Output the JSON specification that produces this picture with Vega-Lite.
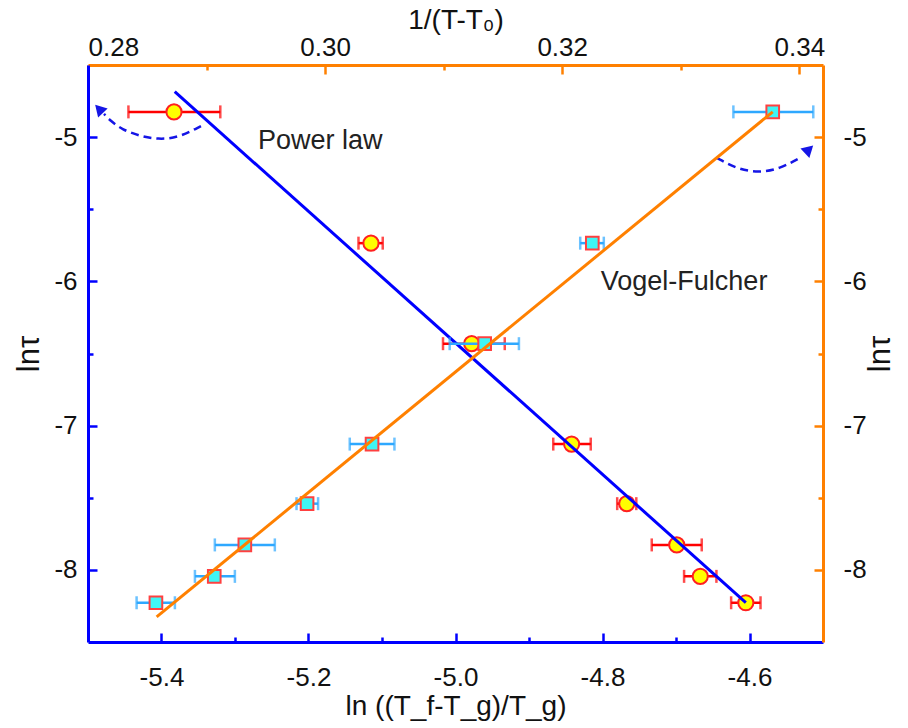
{
  "$schema": "https://vega.github.io/schema/vega-lite/v6.json",
  "width": 735,
  "height": 577,
  "autosize": {"type": "none"},
  "padding": {"left": 88, "top": 65, "right": 85, "bottom": 86},
  "background": "white",
  "config": {
    "view": {"stroke": null},
    "font": "Liberation Sans",
    "axis": {"grid": false, "labelFont": "Liberation Sans", "titleFont": "Liberation Sans", "titleFontWeight": "normal", "labelColor": "#111", "titleColor": "#111", "labelFontSize": 26, "titleFontSize": 28}
  },
  "datasets": {
    "power": [
      {"x": -5.383, "y": -4.825, "xlo": -5.445, "xhi": -5.320},
      {"x": -5.115, "y": -5.735, "xlo": -5.132, "xhi": -5.099},
      {"x": -4.978, "y": -6.432, "xlo": -5.017, "xhi": -4.933},
      {"x": -4.842, "y": -7.128, "xlo": -4.867, "xhi": -4.816},
      {"x": -4.767, "y": -7.541, "xlo": -4.780, "xhi": -4.754},
      {"x": -4.699, "y": -7.827, "xlo": -4.733, "xhi": -4.665},
      {"x": -4.667, "y": -8.045, "xlo": -4.689, "xhi": -4.645},
      {"x": -4.605, "y": -8.228, "xlo": -4.625, "xhi": -4.585}
    ],
    "vf": [
      {"t": 0.28573, "y": -8.228, "tlo": 0.28410, "thi": 0.28733},
      {"t": 0.29065, "y": -8.045, "tlo": 0.28902, "thi": 0.29239},
      {"t": 0.29323, "y": -7.827, "tlo": 0.29070, "thi": 0.29576},
      {"t": 0.29848, "y": -7.541, "tlo": 0.29759, "thi": 0.29941},
      {"t": 0.30396, "y": -7.128, "tlo": 0.30208, "thi": 0.30585},
      {"t": 0.31346, "y": -6.432, "tlo": 0.31051, "thi": 0.31635},
      {"t": 0.32254, "y": -5.735, "tlo": 0.32152, "thi": 0.32351},
      {"t": 0.33776, "y": -4.825, "tlo": 0.33444, "thi": 0.34118}
    ],
    "plfit": [{"x": -5.382, "y": -4.685}, {"x": -4.605, "y": -8.227}],
    "vffit": [{"t": 0.28579, "y": -8.326}, {"t": 0.33776, "y": -4.825}],
    "arrows": [
      {"id": "L", "k": 1, "x": -5.3463, "y": -4.9235},
      {"id": "L", "k": 2, "x": -5.3771, "y": -5.0042},
      {"id": "L", "k": 3, "x": -5.4044, "y": -5.016},
      {"id": "L", "k": 4, "x": -5.4293, "y": -4.993},
      {"id": "L", "k": 5, "x": -5.4541, "y": -4.9465},
      {"id": "L", "k": 6, "x": -5.4701, "y": -4.8839},
      {"id": "L", "k": 7, "x": -5.4782, "y": -4.839},
      {"id": "R", "k": 1, "x": -4.6446, "y": -5.1433},
      {"id": "R", "k": 2, "x": -4.6174, "y": -5.2197},
      {"id": "R", "k": 3, "x": -4.588, "y": -5.2476},
      {"id": "R", "k": 4, "x": -4.5585, "y": -5.2197},
      {"id": "R", "k": 5, "x": -4.5313, "y": -5.1433}
    ],
    "heads": [
      {"side": "L", "x": -5.485, "y": -4.804},
      {"side": "R", "x": -4.519, "y": -5.0855}
    ],
    "notes": [
      {"label": "Power law", "x": -5.184, "y": -5.028},
      {"label": "Vogel-Fulcher", "x": -4.689, "y": -6.001}
    ]
  },
  "resolve": {"scale": {"x": "independent", "y": "independent"}, "axis": {"x": "independent", "y": "independent"}},
  "layer": [
    {
      "resolve": {"axis": {"x": "independent", "y": "independent"}},
      "encoding": {
        "x": {"type": "quantitative", "scale": {"domain": [-5.5, -4.5], "nice": false, "zero": false}},
        "y": {"type": "quantitative", "scale": {"domain": [-8.5, -4.5], "nice": false, "zero": false}}
      },
      "layer": [
        {
          "data": {"name": "power"},
          "mark": {"type": "rule", "color": "#FF0000", "strokeWidth": 2.5},
          "encoding": {
            "x": {"field": "xlo", "type": "quantitative", "axis": {"orient": "bottom", "values": [-5.3, -5.1, -4.9, -4.7], "labels": false, "domain": false, "tickSize": -5, "tickColor": "#0000FF", "tickWidth": 2.5, "title": null}},
            "x2": {"field": "xhi"},
            "y": {"field": "y", "type": "quantitative", "axis": {"orient": "left", "values": [-5.5, -6.5, -7.5], "labels": false, "domain": false, "tickSize": -5, "tickColor": "#0000FF", "tickWidth": 2.5, "title": null}}
          }
        },
        {
          "data": {"name": "power"},
          "mark": {"type": "tick", "orient": "vertical", "color": "#FF0000", "size": 13, "thickness": 2.5},
          "encoding": {
            "x": {"field": "xlo", "type": "quantitative", "axis": null},
            "y": {"field": "y", "type": "quantitative", "axis": null}
          }
        },
        {
          "data": {"name": "power"},
          "mark": {"type": "tick", "orient": "vertical", "color": "#FF0000", "size": 13, "thickness": 2.5},
          "encoding": {
            "x": {"field": "xhi", "type": "quantitative", "axis": null},
            "y": {"field": "y", "type": "quantitative", "axis": null}
          }
        },
        {
          "data": {"name": "power"},
          "mark": {"type": "point", "shape": "circle", "filled": true, "fill": "#FFFF00", "stroke": "#FF2020", "strokeWidth": 2, "size": 230, "opacity": 1},
          "encoding": {
            "x": {"field": "x", "type": "quantitative", "axis": null},
            "y": {"field": "y", "type": "quantitative", "axis": null}
          }
        },
        {
          "data": {"name": "plfit"},
          "mark": {"type": "line", "color": "#0000FF", "strokeWidth": 3},
          "encoding": {
            "x": {"field": "x", "type": "quantitative", "axis": {"orient": "bottom", "values": [-5.4, -5.2, -5.0, -4.8, -4.6], "format": ".1f", "labelExpr": "replace(datum.label, '−', '-')", "domainColor": "#0000FF", "domainWidth": 3, "tickColor": "#0000FF", "tickWidth": 2.5, "tickSize": -9, "labelPadding": 31, "title": "ln ((T_f-T_g)/T_g)", "titlePadding": 2}},
            "y": {"field": "y", "type": "quantitative", "axis": {"orient": "left", "values": [-5, -6, -7, -8], "labelExpr": "replace(datum.label, '−', '-')", "domainColor": "#0000FF", "domainWidth": 3, "tickColor": "#0000FF", "tickWidth": 2.5, "tickSize": -9, "labelPadding": 20, "title": "lnτ", "titleFontSize": 31, "titleAngle": 270, "titlePadding": 8}}
          }
        },
        {
          "data": {"name": "arrows"},
          "mark": {"type": "line", "color": "#1515E6", "strokeWidth": 2.5, "strokeDash": [8, 5], "interpolate": "basis"},
          "encoding": {
            "x": {"field": "x", "type": "quantitative", "axis": null},
            "y": {"field": "y", "type": "quantitative", "axis": null},
            "detail": {"field": "id"},
            "order": {"field": "k"}
          }
        },
        {
          "data": {"name": "heads"},
          "transform": [{"filter": "datum.side == 'L'"}],
          "mark": {"type": "point", "shape": "triangle-up", "filled": true, "color": "#1515E6", "size": 170, "angle": 317, "opacity": 1},
          "encoding": {
            "x": {"field": "x", "type": "quantitative", "axis": null},
            "y": {"field": "y", "type": "quantitative", "axis": null}
          }
        },
        {
          "data": {"name": "heads"},
          "transform": [{"filter": "datum.side == 'R'"}],
          "mark": {"type": "point", "shape": "triangle-up", "filled": true, "color": "#1515E6", "size": 170, "angle": 47, "opacity": 1},
          "encoding": {
            "x": {"field": "x", "type": "quantitative", "axis": null},
            "y": {"field": "y", "type": "quantitative", "axis": null}
          }
        },
        {
          "data": {"name": "notes"},
          "mark": {"type": "text", "fontSize": 27, "font": "Liberation Sans", "color": "#222", "align": "center", "baseline": "middle"},
          "encoding": {
            "x": {"field": "x", "type": "quantitative", "axis": null},
            "y": {"field": "y", "type": "quantitative", "axis": null},
            "text": {"field": "label"}
          }
        }
      ]
    },
    {
      "resolve": {"axis": {"x": "independent", "y": "independent"}},
      "encoding": {
        "x": {"type": "quantitative", "scale": {"domain": [0.28, 0.342], "nice": false, "zero": false}},
        "y": {"type": "quantitative", "scale": {"domain": [-8.5, -4.5], "nice": false, "zero": false}}
      },
      "layer": [
        {
          "data": {"name": "vf"},
          "mark": {"type": "rule", "color": "#2EA8FF", "strokeWidth": 2.5},
          "encoding": {
            "x": {"field": "tlo", "type": "quantitative", "axis": {"orient": "top", "values": [0.29, 0.31, 0.33], "labels": false, "domain": false, "tickSize": -5, "tickColor": "#FF8000", "tickWidth": 2.5, "title": null}},
            "x2": {"field": "thi"},
            "y": {"field": "y", "type": "quantitative", "axis": {"orient": "right", "values": [-5.5, -6.5, -7.5], "labels": false, "domain": false, "tickSize": -5, "tickColor": "#FF8000", "tickWidth": 2.5, "title": null}}
          }
        },
        {
          "data": {"name": "vf"},
          "mark": {"type": "tick", "orient": "vertical", "color": "#2EA8FF", "size": 13, "thickness": 2.5},
          "encoding": {
            "x": {"field": "tlo", "type": "quantitative", "axis": null},
            "y": {"field": "y", "type": "quantitative", "axis": null}
          }
        },
        {
          "data": {"name": "vf"},
          "mark": {"type": "tick", "orient": "vertical", "color": "#2EA8FF", "size": 13, "thickness": 2.5},
          "encoding": {
            "x": {"field": "thi", "type": "quantitative", "axis": null},
            "y": {"field": "y", "type": "quantitative", "axis": null}
          }
        },
        {
          "data": {"name": "vf"},
          "mark": {"type": "point", "shape": "square", "filled": true, "fill": "#3FF5F5", "stroke": "#FF4040", "strokeWidth": 2, "size": 160, "opacity": 1},
          "encoding": {
            "x": {"field": "t", "type": "quantitative", "axis": null},
            "y": {"field": "y", "type": "quantitative", "axis": null}
          }
        },
        {
          "data": {"name": "vffit"},
          "mark": {"type": "line", "color": "#FF8000", "strokeWidth": 3},
          "encoding": {
            "x": {"field": "t", "type": "quantitative", "axis": {"orient": "top", "values": [0.28, 0.30, 0.32, 0.34], "format": ".2f", "domainColor": "#FF8000", "domainWidth": 3, "tickColor": "#FF8000", "tickWidth": 2.5, "tickSize": -9, "labelPadding": 14, "title": "1/(T-T₀)", "titlePadding": 0}},
            "y": {"field": "y", "type": "quantitative", "axis": {"orient": "right", "values": [-5, -6, -7, -8], "labelExpr": "replace(datum.label, '−', '-')", "domainColor": "#FF8000", "domainWidth": 3, "tickColor": "#FF8000", "tickWidth": 2.5, "tickSize": -9, "labelPadding": 29, "title": "lnτ", "titleFontSize": 31, "titleAngle": 270, "titlePadding": 30}}
          }
        }
      ]
    }
  ]
}
